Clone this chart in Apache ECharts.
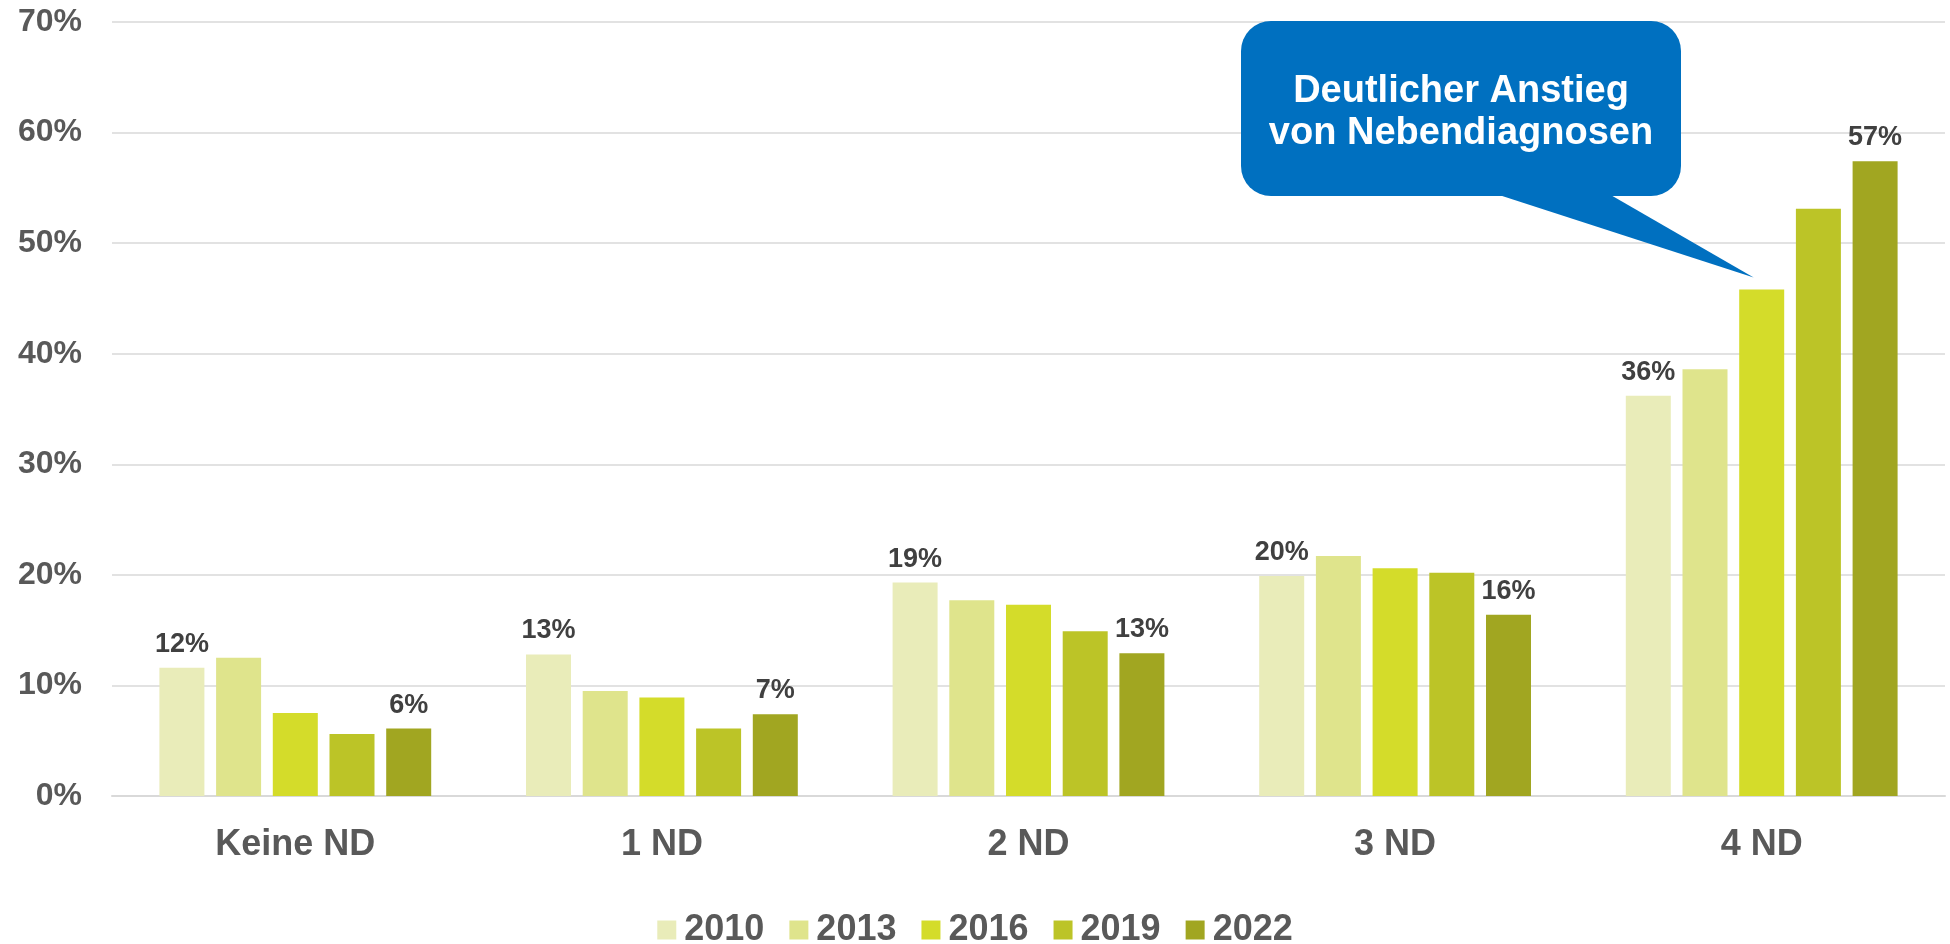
<!DOCTYPE html>
<html>
<head>
<meta charset="utf-8">
<script src="https://cdn.jsdelivr.net/npm/echarts@6/dist/echarts.min.js"></script>
<style>
  html, body { margin: 0; padding: 0; background: #fff; }
  #chart { width: 1950px; height: 944px; }
</style>
</head>
<body>
<div id="chart"></div>
<script>
const categories = ["Keine ND", "1 ND", "2 ND", "3 ND", "4 ND"];
const years = ["2010", "2013", "2016", "2019", "2022"];
// Anteile in %
const v2010 = [11.6, 12.8, 19.3, 19.9, 36.2];
const v2013 = [12.5, 9.5, 17.7, 21.7, 38.6];
const v2016 = [7.5, 8.9, 17.3, 20.6, 45.8];
const v2019 = [5.6, 6.1, 14.9, 20.2, 53.1];
const v2022 = [6.1, 7.4, 12.9, 16.4, 57.4];
const yTicks = [0, 10, 20, 30, 40, 50, 60, 70];
const calloutText = "Deutlicher Anstieg\nvon Nebendiagnosen";

const seriesValues = [v2010, v2013, v2016, v2019, v2022];
const colors = ["#E9ECB9", "#DFE48C", "#D4DC2A", "#BCC427", "#A1A621"];
const font = "'Liberation Sans', Arial, sans-serif";

const chart = echarts.init(document.getElementById("chart"));

const series = years.map((y, i) => ({
  name: y,
  type: "bar",
  data: seriesValues[i],
  barWidth: 45,
  barGap: "26%",
  itemStyle: { color: colors[i] },
  // nur 2010 und 2022 beschriftet
  label: {
    show: i === 0 || i === 4,
    position: "top",
    distance: 10,
    formatter: (p) => Math.round(p.value) + "%",
    fontFamily: font,
    fontWeight: "bold",
    fontSize: 27,
    color: "#404040",
  },
}));

chart.setOption({
  animation: false,
  backgroundColor: "#fff",
  grid: { left: 112, right: 5, top: 22, bottom: 148 },
  legend: {
    data: years,
    top: 907,
    left: "center",
    icon: "rect",
    itemWidth: 19,
    itemHeight: 19,
    itemGap: 25,
    textStyle: {
      fontFamily: font,
      fontWeight: "bold",
      fontSize: 36,
      color: "#595959",
      padding: [0, 0, 0, 3],
    },
  },
  xAxis: {
    type: "category",
    data: categories,
    axisTick: { show: false },
    axisLine: { lineStyle: { color: "#D9D9D9", width: 2 } },
    axisLabel: {
      margin: 31,
      fontFamily: font,
      fontWeight: "bold",
      fontSize: 36,
      color: "#595959",
    },
  },
  yAxis: {
    type: "value",
    min: yTicks[0],
    max: yTicks[yTicks.length - 1],
    interval: 10,
    axisLabel: {
      formatter: "{value}%",
      margin: 30,
      fontFamily: font,
      fontWeight: "bold",
      fontSize: 32,
      color: "#595959",
    },
    splitLine: { lineStyle: { color: "#D9D9D9", width: 1.5 } },
  },
  series: series,
});

// Sprechblase: Spitze zeigt auf den 2016-Balken bei 4 ND
const tip = chart.convertToPixel({ seriesIndex: 2 }, [4, 46.9]);
tip[0] -= 8;
const box = { x: 1241, y: 21, w: 440, h: 175 };
chart.setOption({
  graphic: [
    {
      type: "polygon",
      shape: { points: [[1496, box.y + box.h - 2], [1609, box.y + box.h - 2], tip] },
      style: { fill: "#0070C0" },
      z: 100,
    },
    {
      type: "rect",
      shape: { x: box.x, y: box.y, width: box.w, height: box.h, r: 30 },
      style: { fill: "#0070C0" },
      z: 100,
    },
    {
      type: "text",
      x: box.x + box.w / 2,
      y: box.y + box.h / 2 + 4,
      style: {
        text: calloutText,
        fill: "#fff",
        fontFamily: font,
        fontWeight: "bold",
        fontSize: 38,
        lineHeight: 42,
        align: "center",
        verticalAlign: "middle",
      },
      z: 101,
    },
  ],
});
</script>
</body>
</html>
